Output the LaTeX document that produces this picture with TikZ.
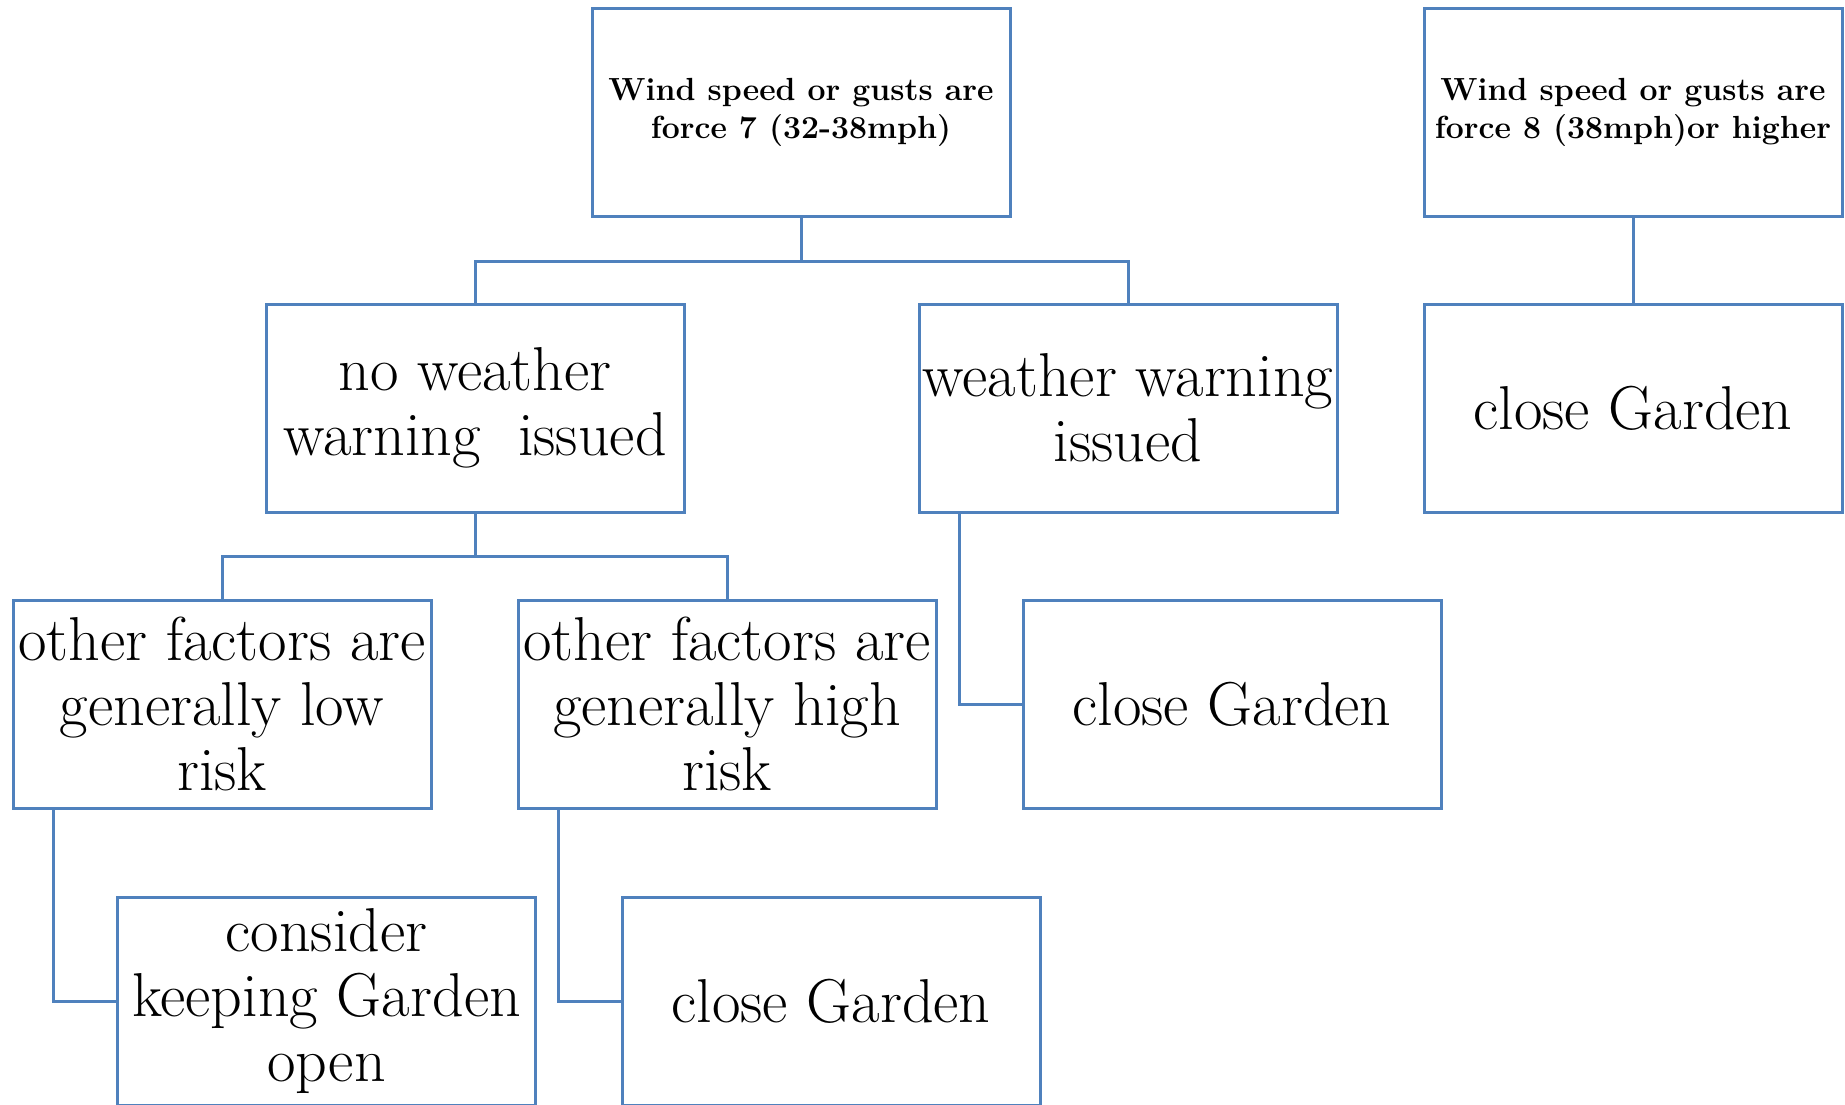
\documentclass[tikz,border=0pt]{standalone}
\usetikzlibrary{calc}
\definecolor{boxblue}{HTML}{4F81BD}
\tikzset{
  box/.style={draw=boxblue, line width=1.5pt, rectangle, minimum width=209pt, minimum height=104pt, inner sep=0pt, align=center, text=black},
  bigtxt/.style={box, font=\fontsize{31}{32.5}\selectfont},
  boldtxt/.style={box, font=\fontsize{16}{19}\selectfont\bfseries},
  conn/.style={draw=boxblue, line width=1.5pt}
}
\begin{document}
\begin{tikzpicture}[x=0.5pt,y=-0.5pt]
\useasboundingbox (0,0) rectangle (1845,1104);
\fill[white] (0,0) rectangle (1845,1104);
\node[boldtxt] (A) at (801,112.5) {Wind speed or gusts are\\force 7 (32-38mph)};
\node[boldtxt] (B) at (1633,112.5) {Wind speed or gusts are\\force 8 (38mph)or higher};
\node[bigtxt] (C) at (475,408) {no weather\\warning\ \ issued};
\node[bigtxt] (D) at (1128,408) {weather warning\\issued};
\node[bigtxt] (B1) at (1633,408) {close Garden};
\node[bigtxt] (E) at (222,704) {other factors are\\generally low\\risk};
\node[bigtxt] (F) at (727,704) {other factors are\\generally high\\risk};
\node[bigtxt] (G) at (1232,704) {close Garden};
\node[bigtxt] (H) at (326.5,1001) {consider\\keeping Garden\\open};
\node[bigtxt] (I) at (831,1001) {close Garden};
\coordinate (busA) at ($(A.south)+(0,43)$);
\coordinate (busC) at ($(C.south)+(0,43)$);
\draw[conn] (A.south) -- (busA) -| (C.north);
\draw[conn] (busA) -| (D.north);
\draw[conn] (C.south) -- (busC) -| (E.north);
\draw[conn] (busC) -| (F.north);
\draw[conn] (B.south) -- (B1.north);
\draw[conn] ($(D.south west)+(42,0)$) |- (G.west);
\draw[conn] ($(E.south west)+(42,0)$) |- (H.west);
\draw[conn] ($(F.south west)+(42,0)$) |- (I.west);
\end{tikzpicture}
\end{document}
